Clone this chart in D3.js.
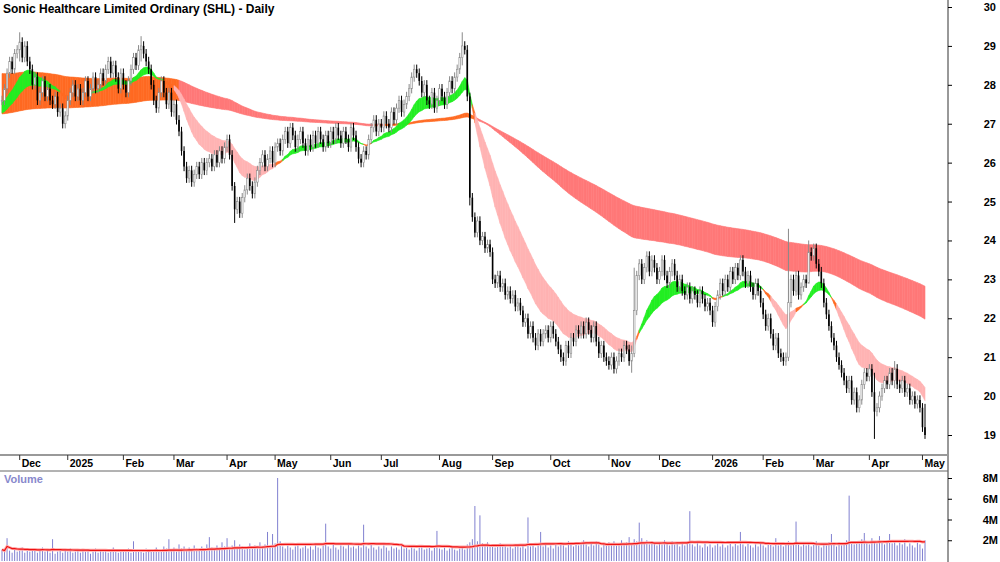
<!DOCTYPE html>
<html>
<head>
<meta charset="utf-8">
<script src="https://cdn.jsdelivr.net/npm/d3@7"></script>
<style>
  body { margin: 0; background: #fff; }
  text { font-family: "Liberation Sans", Arial, sans-serif; }
</style>
</head>
<body>
<svg id="chart" width="1000" height="562"></svg>
<script>
// daily closes, Nov 2024 - May 2026
const closes = [
  27.6,27.9,28.3,28.6,28.4,28.8,28.9,29.1,28.7,29.0, 28.6,28.4,28.0,28.2,27.6,27.8,28.1,27.7,27.9,27.6,
  27.5,27.7,27.3,27.4,27.0,27.2,27.6,27.8,28.0,27.7, 27.9,27.6,27.8,28.1,27.7,27.9,28.2,27.9,28.0,28.3,
  28.1,28.4,28.6,28.3,28.5,28.2,27.9,28.3,28.0,27.8, 28.1,28.4,28.7,28.5,28.9,29.0,28.8,28.6,28.4,28.0,
  27.6,27.4,27.8,28.1,27.8,27.5,27.8,27.3,27.5,27.1, 26.8,26.3,25.9,25.6,25.8,25.5,25.7,25.9,25.7,26.0,
  25.8,26.0,26.1,25.9,26.2,26.0,26.3,26.1,26.4,26.6, 26.2,25.4,24.8,25.0,24.7,25.1,25.3,25.6,25.4,25.2,
  25.5,25.8,26.0,26.2,25.9,26.1,26.3,26.0,26.4,26.5, 26.3,26.6,26.8,26.5,26.9,26.7,26.4,26.6,26.8,26.5,
  26.3,26.6,26.4,26.7,26.5,26.8,26.6,26.4,26.7,26.5, 26.8,26.6,26.9,26.7,26.5,26.8,26.6,26.4,26.9,26.7,
  26.4,26.1,26.0,26.3,26.2,26.6,26.9,27.1,26.8,27.0, 26.9,27.2,27.0,26.9,27.3,27.1,27.4,27.6,27.3,27.5,
  27.7,27.9,28.2,28.4,28.3,28.1,27.8,28.0,27.6,27.5, 27.8,27.4,27.6,27.9,27.7,27.5,27.8,28.1,27.9,28.2,
  28.4,28.7,29.0,28.9,27.7,25.1,24.6,24.2,24.5,24.0, 24.1,23.8,23.9,23.7,23.0,22.9,23.1,22.8,22.9,22.6,
  22.7,22.5,22.6,22.3,22.4,22.2,21.9,22.0,21.6,21.8, 21.5,21.3,21.6,21.4,21.6,21.7,21.5,21.8,21.6,21.4,
  21.2,21.0,20.9,21.3,21.1,21.5,21.4,21.7,21.6,21.8, 21.6,21.9,21.7,21.5,21.8,21.4,21.1,21.3,21.0,20.9,
  20.8,21.0,20.7,20.9,21.1,21.0,21.3,21.2,20.9,21.1, 22.2,23.1,23.4,23.0,23.3,23.6,23.2,23.5,23.3,23.0,
  23.2,23.5,23.1,22.9,23.2,23.4,23.1,22.8,23.0,22.7, 22.6,22.8,22.5,22.7,22.6,22.4,22.7,22.5,22.3,22.4,
  22.2,21.9,22.3,22.6,22.9,22.7,23.0,22.8,23.2,23.0, 23.3,23.1,23.5,23.2,22.9,23.1,22.8,22.6,22.9,22.7,
  22.4,22.1,21.8,22.0,21.6,21.3,21.5,21.1,21.0,20.9, 21.0,22.4,23.0,22.7,23.1,22.6,22.8,23.0,22.9,23.7,
  23.6,23.8,23.4,23.2,22.9,22.4,22.1,21.8,21.5,21.3, 21.0,20.8,20.6,20.4,20.2,20.4,19.9,20.1,19.7,19.9,
  20.3,20.6,20.5,20.7,20.1,19.6,19.7,20.0,20.2,20.4, 20.3,20.6,20.4,20.7,20.3,20.2,20.4,20.1,20.2,19.9,
  20.0,19.8,19.9,19.7,19.2,19.0
];
// bars with a long wick: [index, high, low]
const wicks = [[7,29.35,28.6],[55,29.25,28.6],[92,25.5,24.45],[182,29.35,28.5],[185,27.8,24.9],
  [249,21.3,20.6],[250,23.3,21.0],[311,24.3,20.9],[319,24.0,23.1],[345,20.6,18.9],[353,20.9,20.2],[365,19.8,18.9]];
// daily volume, millions
const volumes = [
  1.1,0.9,2.2,1.0,0.8,1.2,0.9,1.0,1.3,0.8,1.1,0.9,1.2,1.0,0.8,1.1,1.3,0.9,1.0,0.8,
  2.1,0.7,0.9,1.1,0.8,1.0,0.9,1.2,0.8,0.9,1.0,0.8,1.1,0.9,1.0,0.7,0.9,1.2,0.8,1.0,
  0.9,1.1,0.8,1.0,1.3,0.9,0.8,1.1,1.0,0.9,1.2,0.8,1.9,1.0,0.9,1.1,0.8,1.2,1.0,0.9,
  1.1,1.3,0.9,1.0,1.4,1.2,2.1,1.0,1.3,0.9,1.6,1.2,1.4,1.0,1.3,1.1,1.5,1.2,1.0,1.4,
  1.2,1.6,2.3,1.3,1.1,1.5,1.2,1.8,1.4,2.2,1.3,1.5,2.0,1.2,1.6,1.4,1.1,1.3,1.7,1.2,
  1.5,1.3,1.8,1.4,1.6,2.8,1.5,2.6,1.7,8.0,1.9,1.4,1.2,1.5,1.3,1.1,1.4,1.6,1.2,1.3,
  1.5,1.2,1.4,1.1,1.6,1.3,1.2,1.5,3.6,1.4,1.2,1.6,1.3,1.1,1.5,1.4,1.2,1.7,1.3,1.4,
  1.2,1.5,1.3,3.5,1.4,1.2,1.6,1.3,1.1,1.4,1.2,1.5,1.3,1.0,1.4,1.2,1.3,1.1,1.5,1.2,
  1.3,1.1,1.4,1.2,1.0,1.3,1.5,1.1,1.2,1.4,1.0,1.3,2.9,1.2,1.1,1.3,1.0,1.2,1.4,1.1,
  1.0,1.2,1.3,1.1,1.6,1.8,2.1,5.3,1.9,4.4,1.7,1.5,1.8,1.4,1.6,1.3,1.5,1.7,1.4,1.6,
  1.3,1.5,1.2,1.4,1.6,1.3,1.5,1.2,4.2,1.4,1.6,1.3,1.5,2.8,1.4,1.7,1.3,1.5,1.2,1.6,
  1.4,1.7,1.5,1.3,1.9,1.6,1.4,1.8,1.5,1.7,2.0,1.6,1.4,1.8,1.5,1.9,1.6,1.3,1.7,1.5,
  1.8,1.6,1.9,1.5,1.7,2.0,1.6,1.8,2.3,1.7,2.1,1.9,3.7,2.2,1.8,2.0,1.6,1.9,1.7,1.5,
  1.8,1.6,2.0,1.7,1.5,1.9,1.6,1.8,1.4,1.7,1.5,1.9,4.8,1.6,1.4,1.8,1.5,1.3,1.7,1.4,
  1.6,1.3,1.5,1.8,1.4,1.6,1.3,1.5,1.7,1.4,1.9,1.5,2.8,1.6,1.4,1.7,1.5,1.3,1.6,1.4,
  1.7,1.5,1.3,1.8,1.6,1.4,2.2,1.5,1.7,1.4,1.6,1.9,1.5,1.7,3.8,1.6,1.4,1.8,1.5,1.7,
  1.4,1.6,1.9,1.5,1.3,1.7,1.5,1.8,2.6,1.6,1.4,1.8,1.5,1.7,2.0,6.3,1.8,1.6,1.9,1.7,
  2.1,2.7,1.8,1.6,2.2,1.9,1.7,2.4,1.8,1.6,2.0,2.6,1.7,1.9,1.5,1.8,1.6,2.1,1.4,1.7,
  1.5,1.3,1.8,1.6,1.2,2.0
];
const monthLabels = ["Dec","2025","Feb","Mar","Apr","May","Jun","Jul","Aug","Sep","Oct","Nov","Dec","2026","Feb","Mar","Apr","May"];
const monthIndex = [7,26,48,68,89,108,130,150,173,194,217,240,260,281,301,321,343,364];
const priceTicks = [19,20,21,22,23,24,25,26,27,28,29,30];
const volTicks = [2,4,6,8];
// moving average periods and their values on the day before the first bar
const shortPeriods = [16,20,24,30];
const shortSeeds = [27.55,27.45,27.35,27.25];
const longPeriods = [150,170,190,210,235];
const longSeeds = [28.3,28.0,27.75,27.5,27.25];

const svg = d3.select("#chart");
const n = closes.length;
const axisX = 948;

const x = d3.scaleLinear().domain([0, n - 1]).range([2, 925]);
const y = d3.scaleLinear().domain([19, 30]).range([435, 7]);
const yv = d3.scaleLinear().domain([0, 8]).range([561, 478]);

// bars
const bars = closes.map((c, i) => {
  const o = i === 0 ? c : closes[i - 1];
  let hi = Math.max(o, c) + 0.12, lo = Math.min(o, c) - 0.12;
  const w = wicks.find(d => d[0] === i);
  if (w) { hi = w[1]; lo = w[2]; }
  return { i, o, c, hi, lo };
});

// exponential moving averages
function ema(p, seed) {
  const k = 2 / (p + 1);
  let e = seed;
  return closes.map(c => (e = c * k + e * (1 - k)));
}
const shortE = shortPeriods.map((p, j) => ema(p, shortSeeds[j]));
const longE = longPeriods.map((p, j) => ema(p, longSeeds[j]));
const band = arr => closes.map((_, i) => [d3.min(arr, a => a[i]), d3.max(arr, a => a[i])]);
const shortBand = band(shortE), longBand = band(longE);

function drawBand(b, colorOf) {
  const g = svg.append("g");
  for (let i = 0; i < n - 1; i++) {
    const col = colorOf(i);
    const pts = [[x(i), y(b[i][1])], [x(i + 1), y(b[i + 1][1])], [x(i + 1), y(b[i + 1][0])], [x(i), y(b[i][0])]];
    g.append("path").attr("d", "M" + pts.join("L") + "Z")
      .attr("fill", col).attr("stroke", col).attr("stroke-width", 0.6);
  }
}
drawBand(longBand, i => (i < 70 || shortBand[i][1] > longBand[i][1] || closes[i] > longBand[i][1]) ? "#ff6a22" : "#ff7878");
drawBand(shortBand, i => {
  const fast = shortE[0][i], slow = shortE[shortE.length - 1][i];
  if (fast > slow) return "#22ee22";
  if (slow - fast < 0.1) return "#ff6a22";
  return "#ffb3b3";
});

// candles
const cg = svg.append("g");
bars.forEach(d => {
  const up = d.c >= d.o;
  const col = up ? "#8a8a8a" : "#000";
  const cx = x(d.i);
  cg.append("line").attr("x1", cx).attr("x2", cx).attr("y1", y(d.hi)).attr("y2", y(d.lo))
    .attr("stroke", col).attr("stroke-width", 1);
  const top = y(Math.max(d.o, d.c)), bot = y(Math.min(d.o, d.c));
  cg.append("rect").attr("x", cx - 0.8).attr("width", 1.6).attr("y", top).attr("height", Math.max(bot - top, 1))
    .attr("fill", up ? "#fff" : "#000").attr("stroke", col).attr("stroke-width", up ? 0.6 : 0);
});

// volume bars
svg.append("g").selectAll("line").data(volumes).join("line")
  .attr("x1", (d, i) => x(i)).attr("x2", (d, i) => x(i))
  .attr("y1", yv(0)).attr("y2", d => yv(d))
  .attr("stroke", "#8080d0").attr("stroke-width", 1);
const volMA = volumes.map((v, i) => d3.mean(volumes.slice(Math.max(0, i - 49), i + 1)));
const vline = d3.line().x((d, i) => x(i)).y(d => yv(d));
svg.append("path").datum(volMA).attr("d", vline).attr("fill", "none").attr("stroke", "#ffaaaa").attr("stroke-width", 3);
svg.append("path").datum(volMA).attr("d", vline).attr("fill", "none").attr("stroke", "#ee1111").attr("stroke-width", 1.2);
svg.append("text").attr("x", 4).attr("y", 483).attr("font-size", 11).attr("font-weight", "bold")
  .attr("fill", "#8888cc").text("Volume");

// right axis
svg.append("line").attr("x1", axisX).attr("x2", axisX).attr("y1", 0).attr("y2", 562).attr("stroke", "#333");
const pa = svg.append("g").attr("transform", `translate(${axisX},0)`)
  .call(d3.axisRight(y).tickValues(priceTicks).tickSize(4).tickFormat(d3.format("d")));
pa.select(".domain").remove();
pa.selectAll("text").attr("x", 48).attr("text-anchor", "end").attr("font-size", 11)
  .attr("font-weight", "bold").attr("font-family", "Liberation Sans, Arial");
const va = svg.append("g").attr("transform", `translate(${axisX},0)`)
  .call(d3.axisRight(yv).tickValues(volTicks).tickSize(4).tickFormat(d => d + "M"));
va.select(".domain").remove();
va.selectAll("text").attr("x", 50).attr("text-anchor", "end").attr("font-size", 11)
  .attr("font-weight", "bold").attr("font-family", "Liberation Sans, Arial");

// month axis
svg.append("line").attr("x1", 0).attr("x2", axisX).attr("y1", 455).attr("y2", 455).attr("stroke", "#999").attr("stroke-width", 2);
svg.append("line").attr("x1", 0).attr("x2", axisX).attr("y1", 471).attr("y2", 471).attr("stroke", "#666");
const ma = svg.append("g");
monthIndex.forEach((mi, k) => {
  const mx = x(mi);
  ma.append("line").attr("x1", mx).attr("x2", mx).attr("y1", 455).attr("y2", 460).attr("stroke", "#333");
  ma.append("text").attr("x", mx + 2).attr("y", 467).attr("font-size", 10.5).attr("font-weight", "bold")
    .text(monthLabels[k]);
});

// title
svg.append("text").attr("x", 3).attr("y", 13).attr("font-size", 12).attr("font-weight", "bold")
  .text("Sonic Healthcare Limited Ordinary (SHL) - Daily");
</script>
</body>
</html>
